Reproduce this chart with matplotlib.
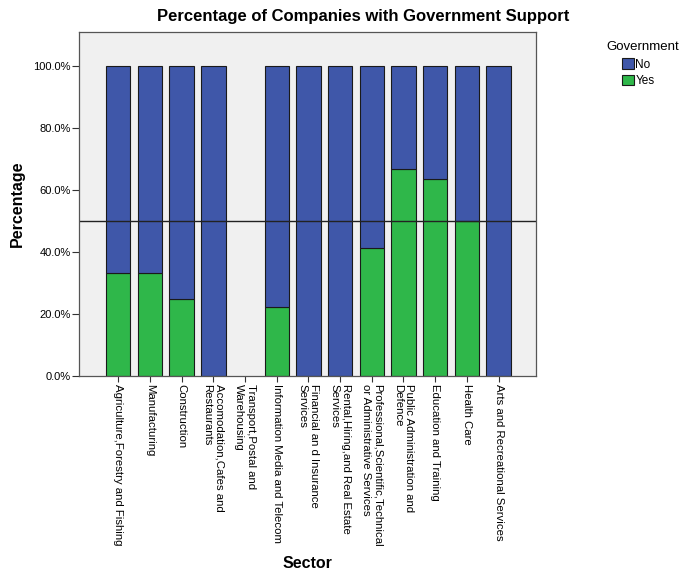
import numpy as np
import matplotlib.pyplot as plt
import matplotlib.transforms as mtransforms
from matplotlib.patches import Patch

plt.rcParams['font.family'] = ['Liberation Sans', 'DejaVu Sans']

sectors = ["Agriculture,Forestry and Fishing", "Manufacturing", "Construction",
           "Accomodation,Cafes and\nRestaurants", "Transport,Postal and\nWarehousing",
           "Information Media and Telecom", "Financial an d Insurance\nServices",
           "Rental,Hiring,and Real Estate\nServices",
           "Professional,Scientific,Technical\nor Administrative Services",
           "Public Administration and\nDefence", "Education and Training", "Health Care",
           "Arts and Recreational Services"]
# percent of companies answering "Yes"; nan = no companies in that sector
yes_pct = [33.3, 33.3, 25.0, 0.0, np.nan, 22.2, 0.0, 0.0, 41.2, 66.7, 63.6, 50.0, 0.0]
no_pct = [100 - v for v in yes_pct]
yticks = [0, 20, 40, 60, 80, 100]

blue = '#3f57a9'
green = '#2fb74a'

fig = plt.figure(figsize=(6.81, 5.73), dpi=100)
ax = fig.add_axes([0.116, 0.3438, 0.671, 0.5998])
ax.set_facecolor('#f0f0f0')

x = np.arange(len(sectors))
ax.bar(x, yes_pct, width=0.77, color=green, edgecolor='#1a1a1a', linewidth=0.8)
ax.bar(x, no_pct, width=0.77, bottom=yes_pct, color=blue, edgecolor='#1a1a1a', linewidth=0.8)
ax.axhline(50, color='#222222', linewidth=1.0)

ax.set_xlim(-1.24, len(sectors) - 1 + 1.18)
ax.set_ylim(0, 111)
ax.set_yticks(yticks)
ax.set_yticklabels(['%.1f%%' % v for v in yticks], fontsize=8)
ax.set_xticks(x)
ax.set_xticklabels(sectors, fontsize=8.2)
shift = mtransforms.ScaledTranslation(-2.5 / 100, 0, fig.dpi_scale_trans)
for lab in ax.get_xticklabels():
    lab.set_rotation(270)
    lab.set_ha('center')
    lab.set_va('top')
    lab.set_multialignment('left')
    lab.set_transform(lab.get_transform() + shift)
ax.tick_params(axis='y', length=5, width=0.8, color='#333333', pad=1)
ax.tick_params(axis='x', length=4, width=0.8, color='#333333', pad=2)
for s in ax.spines.values():
    s.set_color('#555555')
    s.set_linewidth(0.9)

ax.set_ylabel('Percentage', fontsize=11.5, fontweight='bold', labelpad=6)
fig.text(0.452, 0.017, 'Sector', fontsize=11.5, fontweight='bold', ha='center', va='center')
fig.text(0.533, 0.972, 'Percentage of Companies with Government Support', fontsize=12,
         fontweight='bold', ha='center', va='center')

fig.text(0.944, 0.918, 'Government', fontsize=9.5, ha='center', va='center')
handles = [Patch(facecolor=blue, edgecolor='#1a1a1a', linewidth=0.8, label='No'),
           Patch(facecolor=green, edgecolor='#1a1a1a', linewidth=0.8, label='Yes')]
fig.legend(handles=handles, loc='upper left', bbox_to_anchor=(0.914, 0.898), frameon=False,
           fontsize=8.5, handlelength=0.95, handleheight=0.95, handletextpad=0.15,
           labelspacing=0.35, borderpad=0, borderaxespad=0)

fig.savefig('out.png', dpi=100)
